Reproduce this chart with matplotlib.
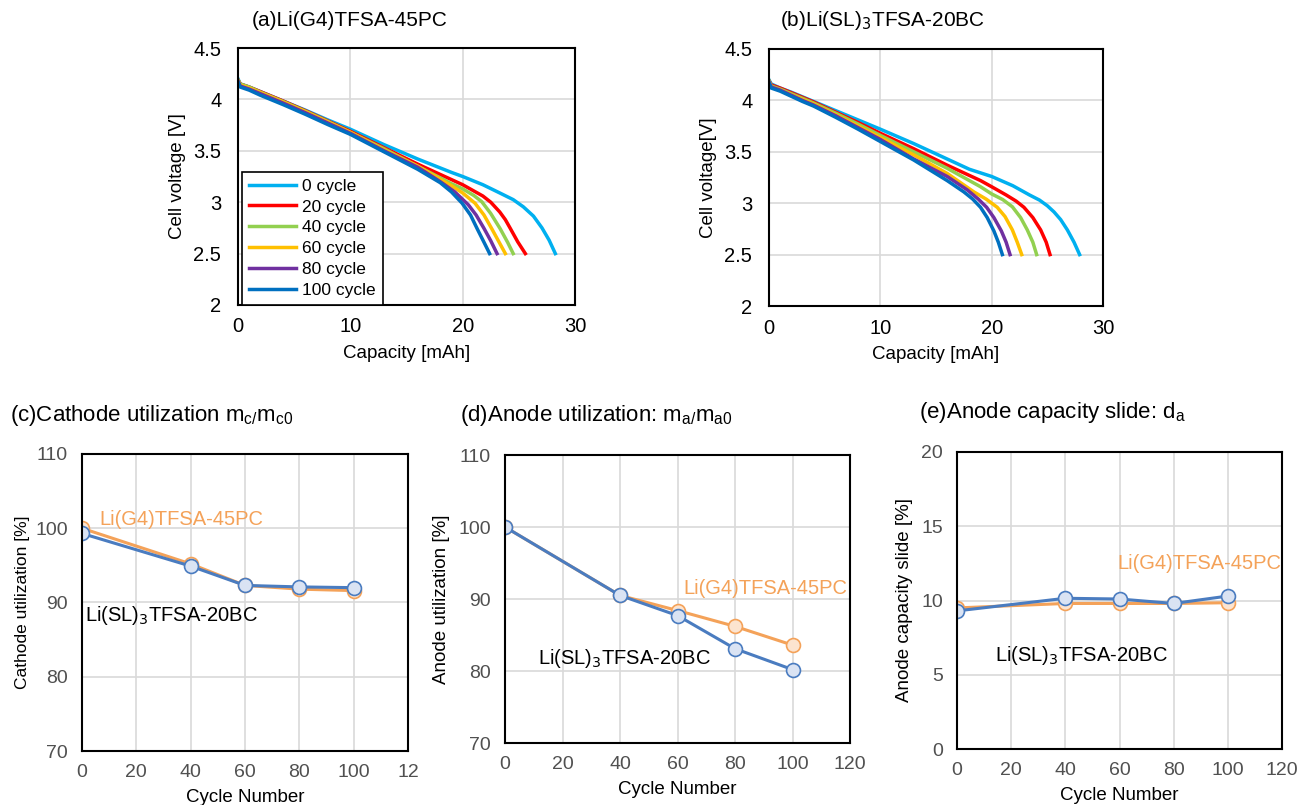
import numpy as np
import matplotlib
matplotlib.use("Agg")
import matplotlib.pyplot as plt

plt.rcParams['font.family'] = ['Liberation Sans', 'DejaVu Sans']

# ---- discharge curves (capacity mAh, voltage V) ----
cycle_labels = ["0 cycle", "20 cycle", "40 cycle", "60 cycle", "80 cycle", "100 cycle"]
curve_colors = ["#00B0F0", "#FF0000", "#92D050", "#FFC000", "#7030A0", "#0070C0"]

cap_early = [0, 0.2, 1, 2, 3, 4, 6, 8, 10]

# (a) Li(G4)TFSA-45PC
a_early = [
    [4.20, 4.15, 4.12, 4.075, 4.03, 3.985, 3.895, 3.80, 3.71],
    [4.19, 4.15, 4.12, 4.075, 4.03, 3.985, 3.89, 3.79, 3.69],
    [4.19, 4.15, 4.12, 4.07, 4.025, 3.98, 3.885, 3.785, 3.68],
    [4.18, 4.14, 4.11, 4.065, 4.02, 3.975, 3.88, 3.78, 3.68],
    [4.18, 4.13, 4.10, 4.055, 4.01, 3.965, 3.87, 3.77, 3.67],
    [4.17, 4.12, 4.09, 4.04, 3.995, 3.95, 3.855, 3.755, 3.66],
]
a_tail_x = [
    [13, 16, 19, 20, 21.8, 23.3, 24.5, 25.4, 26.3, 27.06, 27.7, 28.25],
    [13, 16, 19, 20, 21.8, 22.5, 23.3, 23.8, 24.24, 24.9, 25.58],
    [13, 16, 19, 20, 21, 21.7, 22.5, 23.35, 24.0, 24.5],
    [13, 16, 19, 20, 21.1, 21.9, 22.6, 23.3, 23.8],
    [13, 16, 18, 19.3, 20.5, 21.2, 21.9, 22.5, 23.06],
    [13, 16, 18, 19, 19.95, 20.7, 21.3, 21.9, 22.4],
]
a_tail_y = [
    [3.56, 3.42, 3.29, 3.25, 3.17, 3.09, 3.025, 2.955, 2.865, 2.75, 2.63, 2.50],
    [3.53, 3.37, 3.22, 3.17, 3.06, 3.00, 2.905, 2.83, 2.745, 2.615, 2.50],
    [3.52, 3.35, 3.18, 3.13, 3.065, 3.005, 2.89, 2.74, 2.61, 2.50],
    [3.51, 3.35, 3.16, 3.09, 2.99, 2.875, 2.74, 2.60, 2.50],
    [3.50, 3.34, 3.20, 3.10, 2.975, 2.875, 2.745, 2.625, 2.50],
    [3.49, 3.32, 3.19, 3.10, 2.99, 2.875, 2.74, 2.61, 2.50],
]

# (b) Li(SL)3TFSA-20BC
b_early = [
    [4.20, 4.16, 4.12, 4.08, 4.035, 3.99, 3.90, 3.81, 3.72],
    [4.19, 4.15, 4.12, 4.075, 4.03, 3.985, 3.885, 3.785, 3.68],
    [4.19, 4.14, 4.11, 4.065, 4.02, 3.975, 3.875, 3.77, 3.66],
    [4.18, 4.13, 4.10, 4.055, 4.01, 3.965, 3.86, 3.75, 3.64],
    [4.18, 4.13, 4.10, 4.05, 4.00, 3.955, 3.85, 3.735, 3.62],
    [4.17, 4.12, 4.09, 4.04, 3.99, 3.945, 3.835, 3.72, 3.60],
]
b_tail_x = [
    [13, 16, 18, 20, 21.9, 23.4, 24.3, 25.0, 25.6, 26.2, 26.8, 27.4, 27.9],
    [13, 16, 19, 20, 21.3, 22.2, 22.9, 23.7, 24.4, 24.9, 25.24],
    [13, 16, 19, 20, 21.0, 21.86, 22.6, 23.2, 23.7, 24.04],
    [13, 16, 18.4, 19.5, 20.5, 21.2, 21.86, 22.3, 22.7],
    [13, 16, 17.8, 18.8, 19.55, 20.2, 20.87, 21.3, 21.65],
    [13, 16, 17.5, 18.3, 19.0, 19.6, 20.2, 20.6, 20.96],
]
b_tail_y = [
    [3.58, 3.43, 3.33, 3.26, 3.17, 3.08, 3.03, 2.975, 2.915, 2.84, 2.74, 2.62, 2.50],
    [3.53, 3.37, 3.22, 3.16, 3.08, 3.02, 2.96, 2.86, 2.74, 2.62, 2.50],
    [3.50, 3.34, 3.16, 3.09, 3.035, 2.965, 2.86, 2.74, 2.62, 2.50],
    [3.47, 3.29, 3.11, 3.04, 2.96, 2.87, 2.74, 2.62, 2.50],
    [3.43, 3.26, 3.13, 3.04, 2.96, 2.86, 2.73, 2.62, 2.50],
    [3.42, 3.22, 3.11, 3.04, 2.96, 2.86, 2.73, 2.62, 2.50],
]

# ---- cycle dependence ----
cycles = [0, 40, 60, 80, 100]
cath_g4 = [100.0, 95.2, 92.3, 91.8, 91.6]
cath_sl = [99.3, 94.9, 92.3, 92.1, 92.0]
anode_g4 = [100.0, 90.5, 88.4, 86.2, 83.6]
anode_sl = [100.0, 90.5, 87.7, 83.1, 80.2]
slide_g4 = [9.5, 9.8, 9.8, 9.8, 9.85]
slide_sl = [9.3, 10.15, 10.1, 9.8, 10.3]

orange = "#F4A259"
orange_face = "#FCE4D0"
blue = "#4A7CC0"
blue_face = "#DAE3F3"
grid_c = "#D9D9D9"

W, H = 1298, 805
fig = plt.figure(figsize=(W / 100, H / 100), dpi=100)


def px_axes(x0, y0, x1, y1):
    return fig.add_axes([x0 / W, 1 - y1 / H, (x1 - x0) / W, (y1 - y0) / H])


def style(ax, tick_color="black", fs=13, xpad=10, ypad=11):
    ax.grid(True, color=grid_c, lw=1.2)
    ax.set_axisbelow(True)
    for s in ax.spines.values():
        s.set_linewidth(1.5)
        s.set_color("black")
    ax.tick_params(length=0, labelsize=fs, labelcolor=tick_color)
    ax.tick_params(axis="x", pad=xpad)
    ax.tick_params(axis="y", pad=ypad)


# top panels
top = [
    ((238, 48, 575, 305), a_early, a_tail_x, a_tail_y, "Cell voltage [V]", "(a)Li(G4)TFSA-45PC", 252),
    ((769, 49, 1103, 306), b_early, b_tail_x, b_tail_y, "Cell voltage[V]", "(b)Li(SL)$_3$TFSA-20BC", 780),
]
for i, ((x0, y0, x1, y1), early, tx_list, ty_list, ylab, title, tx) in enumerate(top):
    ax = px_axes(x0, y0, x1, y1)
    for lab, c, ye, xt, yt in zip(cycle_labels, curve_colors, early, tx_list, ty_list):
        ax.plot(cap_early + xt, ye + yt, color=c, lw=2.5, label=lab, solid_joinstyle="round")
    ax.set_xlim(0, 30)
    ax.set_ylim(2, 4.5)
    ax.set_xticks([0, 10, 20, 30])
    ax.set_yticks([2, 2.5, 3, 3.5, 4, 4.5])
    ax.set_yticklabels(["2", "2.5", "3", "3.5", "4", "4.5"])
    style(ax, fs=14.5, xpad=9, ypad=12)
    ax.set_xlabel("Capacity [mAh]", fontsize=13.5, labelpad=6)
    ax.set_ylabel(ylab, fontsize=13.5, labelpad=5)
    fig.text(tx / W, 1 - 21 / H, title, fontsize=15, va="center", ha="left")
    if i == 0:
        leg = ax.legend(loc="lower left", bbox_to_anchor=(0.012, 0.0), fontsize=12.5,
                        handlelength=2.7, borderpad=0.4, labelspacing=0.33,
                        handletextpad=0.35, borderaxespad=0.0,
                        fancybox=False, framealpha=1)
        leg.get_frame().set_edgecolor("black")
        leg.get_frame().set_linewidth(1.2)

# bottom panels
bottom = [
    ((82, 454, 408, 751), cath_g4, cath_sl, (70, 110), [70, 80, 90, 100, 110],
     "Cathode utilization [%]", 12.5,
     "(c)Cathode utilization m$_{\\mathregular{c/}}$m$_{\\mathregular{c0}}$", 10, 415,
     (6.4, 101.2), (1.2, 88.3)),
    ((505, 455, 850, 743), anode_g4, anode_sl, (70, 110), [70, 80, 90, 100, 110],
     "Anode utilization [%]", 13.5,
     "(d)Anode utilization: m$_{\\mathregular{a/}}$m$_{\\mathregular{a0}}$", 460, 415,
     (61.9, 91.5), (11.5, 81.7)),
    ((957, 452, 1282, 749), slide_g4, slide_sl, (0, 20), [0, 5, 10, 15, 20],
     "Anode capacity slide [%]", 13.5,
     "(e)Anode capacity slide: d$_{\\mathregular{a}}$", 919, 412,
     (59.1, 12.5), (14.1, 6.3)),
]

for i, ((x0, y0, x1, y1), g4, sl, ylim, yt, ylab, yfs, title, tx, ty, pg4, psl) in enumerate(bottom):
    ax = px_axes(x0, y0, x1, y1)
    ax.plot(cycles, g4, color=orange, lw=2.2, marker="o", ms=10,
            mfc=orange_face, mec=orange, mew=1.2)
    ax.plot(cycles, sl, color=blue, lw=2.2, marker="o", ms=10,
            mfc=blue_face, mec=blue, mew=1.2)
    ax.set_xlim(0, 120)
    ax.set_ylim(*ylim)
    ax.set_xticks(range(0, 121, 20))
    if i == 0:
        ax.set_xticklabels(["0", "20", "40", "60", "80", "100", "12"])
    ax.set_yticks(yt)
    style(ax, tick_color="#505050", fs=14, xpad=9, ypad=10)
    ax.set_xlabel("Cycle Number", fontsize=13.5, labelpad=6)
    ax.set_ylabel(ylab, fontsize=yfs, labelpad=6 if i else 4)
    fig.text(tx / W, 1 - ty / H, title, fontsize=16, va="center", ha="left")
    ax.text(pg4[0], pg4[1], "Li(G4)TFSA-45PC", color=orange, fontsize=14.5, va="center", ha="left")
    ax.text(psl[0], psl[1], "Li(SL)$_3$TFSA-20BC", color="black", fontsize=14.5, va="center", ha="left")

fig.savefig("out.png", dpi=100)
